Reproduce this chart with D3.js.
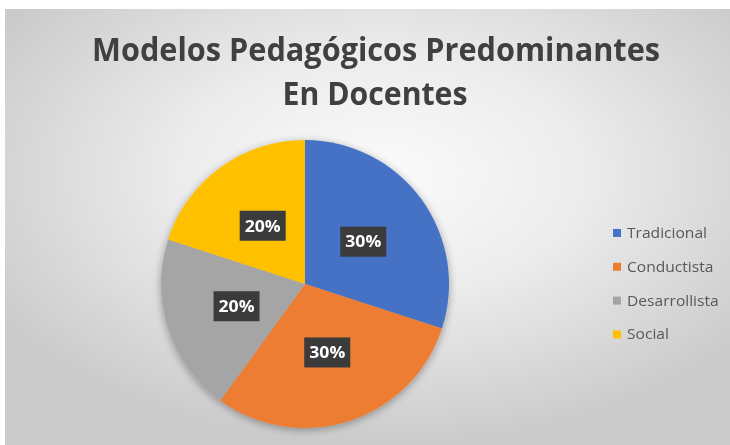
<!DOCTYPE html>
<html>
<head>
<meta charset="utf-8">
<script src="https://cdn.jsdelivr.net/npm/d3@7"></script>
<style>
  html, body { margin: 0; padding: 0; background: #ffffff; }
  svg { display: block; }
</style>
</head>
<body>
<svg id="chart" width="730" height="445"></svg>
<script>
// Chart data
const categories = ["Tradicional", "Conductista", "Desarrollista", "Social"];
const values = [30, 30, 20, 20];
const colors = ["#4472C4", "#ED7D31", "#A5A5A5", "#FFC000"];
const titleLines = ["Modelos Pedagógicos Predominantes", "En Docentes"];

const W = 730, H = 445;
const svg = d3.select("#chart");
const defs = svg.append("defs");

// Soft radial background of the chart area
const bg = defs.append("radialGradient").attr("id", "bgGrad")
  .attr("cx", "52%").attr("cy", "38%").attr("r", "62%");
bg.append("stop").attr("offset", "0%").attr("stop-color", "#fbfbfb");
bg.append("stop").attr("offset", "45%").attr("stop-color", "#ececec");
bg.append("stop").attr("offset", "100%").attr("stop-color", "#cbcbcb");

const shadow = defs.append("filter").attr("id", "pieShadow")
  .attr("x", "-20%").attr("y", "-20%").attr("width", "140%").attr("height", "140%");
shadow.append("feGaussianBlur").attr("in", "SourceAlpha").attr("stdDeviation", 4).attr("result", "b");
shadow.append("feOffset").attr("in", "b").attr("dx", 0).attr("dy", 2).attr("result", "o");
shadow.append("feComponentTransfer").attr("in", "o").attr("result", "s")
  .append("feFuncA").attr("type", "linear").attr("slope", 0.35);
const merge = shadow.append("feMerge");
merge.append("feMergeNode").attr("in", "s");
merge.append("feMergeNode").attr("in", "SourceGraphic");

const blur = defs.append("filter").attr("id", "soft");
blur.append("feGaussianBlur").attr("stdDeviation", 0.6);

svg.append("rect").attr("x", 5).attr("y", 9).attr("width", W - 5).attr("height", H - 9)
  .attr("fill", "url(#bgGrad)");

// Title: two centred lines, condensed to the chart's title width
const title = svg.append("g").attr("filter", "url(#soft)");
const titleY = [61, 105];
const titleW = [568, 185];
const titleX = [376, 375];
titleLines.forEach((t, i) => {
  title.append("text")
    .attr("x", titleX[i]).attr("y", titleY[i])
    .attr("text-anchor", "middle")
    .attr("font-family", "'Open Sans', 'DejaVu Sans', sans-serif")
    .attr("font-weight", 700)
    .attr("font-size", 32)
    .attr("fill", "#404040")
    .attr("textLength", titleW[i])
    .attr("lengthAdjust", "spacingAndGlyphs")
    .text(t);
});

// Pie
const cx = 305, cy = 284, R = 144;
const pie = d3.pie().sort(null).value(d => d)(values);
const arc = d3.arc().innerRadius(0).outerRadius(R);
const labelArc = d3.arc().innerRadius(R * 0.5).outerRadius(R * 0.5);

const g = svg.append("g").attr("transform", `translate(${cx},${cy})`);
g.append("g").attr("filter", "url(#pieShadow)")
  .selectAll("path").data(pie).join("path")
  .attr("d", arc)
  .attr("fill", (d, i) => colors[i]);

const total = d3.sum(values);
const lab = g.append("g").attr("filter", "url(#soft)")
  .selectAll("g").data(pie).join("g")
  .attr("transform", d => `translate(${labelArc.centroid(d)})`);
lab.append("rect")
  .attr("x", -23).attr("y", -15).attr("width", 46).attr("height", 30)
  .attr("fill", "#3a3a3a");
lab.append("text")
  .attr("text-anchor", "middle").attr("dy", "0.36em")
  .attr("font-family", "'Open Sans', 'DejaVu Sans', sans-serif")
  .attr("font-weight", 700).attr("font-size", 16)
  .attr("fill", "#ffffff")
  .attr("textLength", 36).attr("lengthAdjust", "spacingAndGlyphs")
  .text(d => Math.round(d.data / total * 100) + "%");

// Legend
const legend = svg.append("g").attr("transform", "translate(613,233)").attr("filter", "url(#soft)");
const item = legend.selectAll("g").data(categories).join("g")
  .attr("transform", (d, i) => `translate(0,${i * 33.8})`);
item.append("rect").attr("x", 0).attr("y", -4).attr("width", 8).attr("height", 8)
  .attr("fill", (d, i) => colors[i]);
const legText = item.append("text").attr("x", 14).attr("dy", "0.35em")
  .attr("font-family", "'Open Sans', 'DejaVu Sans', sans-serif")
  .attr("font-size", 14).attr("fill", "#595959")
  .text(d => d);
// Widen legend labels uniformly so "Tradicional" spans 80px
const base = legText.node().getComputedTextLength();
const k = base > 0 ? 80 / base : 1;
legText.each(function () {
  const l = this.getComputedTextLength();
  d3.select(this).attr("textLength", l * k).attr("lengthAdjust", "spacingAndGlyphs");
});
</script>
</body>
</html>
